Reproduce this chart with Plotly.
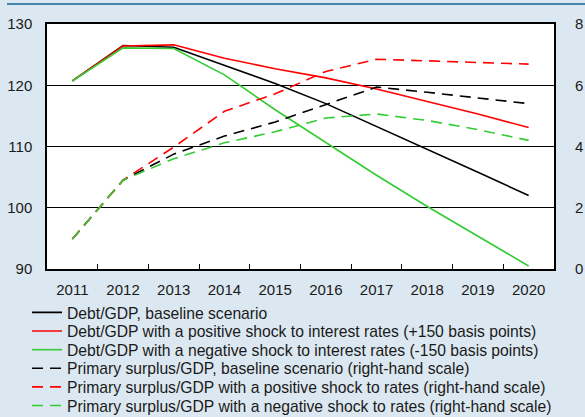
import plotly.graph_objects as go

years = ["2011", "2012", "2013", "2014", "2015", "2016", "2017", "2018", "2019", "2020"]

debt_baseline = [120.7, 126.5, 126.2, 123.3, 120.3, 117.0, 113.3, 109.6, 105.8, 102.0]
debt_pos_shock = [120.7, 126.4, 126.6, 124.4, 122.7, 121.2, 119.4, 117.4, 115.3, 113.1]
debt_neg_shock = [120.7, 126.1, 126.0, 121.7, 116.0, 110.6, 105.3, 100.2, 95.3, 90.5]

ps_baseline = [0.98, 2.90, 3.75, 4.34, 4.80, 5.37, 5.94, 5.77, 5.59, 5.40]
ps_pos_shock = [0.98, 2.90, 3.98, 5.15, 5.72, 6.45, 6.85, 6.80, 6.75, 6.69]
ps_neg_shock = [0.98, 2.90, 3.60, 4.12, 4.48, 4.93, 5.06, 4.85, 4.55, 4.20]

labels = [
    "Debt/GDP, baseline scenario",
    "Debt/GDP with a positive shock to interest rates (+150 basis points)",
    "Debt/GDP with a negative shock to interest rates (-150 basis points)",
    "Primary surplus/GDP, baseline scenario (right-hand scale)",
    "Primary surplus/GDP with a positive shock to rates (right-hand scale)",
    "Primary surplus/GDP with a negative shock to rates (right-hand scale)",
]

BLACK = "#000000"
RED = "#ff0000"
GREEN = "#33cc33"
BG = "#dce8f1"
FONT = "Liberation Sans, Arial, sans-serif"

W, H = 585, 417
PL, PR, PT, PB = 47, 554, 24, 269
plot_h = PB - PT
plot_w = PR - PL

def py(pix):
    return (PB - pix) / plot_h

def px(pix):
    return (pix - PL) / plot_w

fig = go.Figure()

series = [
    (debt_baseline, BLACK, "solid", "y"),
    (debt_pos_shock, RED, "solid", "y"),
    (debt_neg_shock, GREEN, "solid", "y"),
    (ps_baseline, BLACK, "11px,7px", "y2"),
    (ps_pos_shock, RED, "11px,7px", "y2"),
    (ps_neg_shock, GREEN, "11px,7px", "y2"),
]

legend_names = ["legend", "legend2", "legend3", "legend4", "legend5", "legend6"]
row_centers = [312.7, 331.3, 350.0, 368.6, 387.2, 405.8]

for i, (vals, col, dash, yax) in enumerate(series):
    fig.add_trace(go.Scatter(
        x=years, y=vals, mode="lines", name=labels[i],
        line=dict(color=col, width=1.6, dash=dash),
        yaxis=yax, legend=legend_names[i],
    ))

legend_common = dict(
    x=px(27), xanchor="left", yanchor="middle",
    bgcolor="rgba(0,0,0,0)", borderwidth=0,
    font=dict(family=FONT, size=15.7, color="#1a1a1a"),
)
layout_legends = {}
for i, name in enumerate(legend_names):
    d = dict(legend_common)
    d["y"] = py(row_centers[i])
    layout_legends[name] = d

fig.update_layout(
    width=W, height=H,
    paper_bgcolor=BG, plot_bgcolor="white",
    margin=dict(l=PL, r=W - PR, t=PT, b=H - PB, autoexpand=False),
    font=dict(family=FONT, size=15, color="#1a1a1a"),
    showlegend=True,
    xaxis=dict(
        type="category", range=[-0.5, len(years) - 0.5],
        tickson="boundaries", ticks="inside", ticklen=5,
        tickcolor=BLACK, tickwidth=1, showgrid=False,
        showline=True, linecolor=BLACK, linewidth=1.5, mirror=True,
        ticklabelstandoff=6, automargin=False,
        tickfont=dict(family=FONT, size=15, color="#1a1a1a"),
    ),
    yaxis=dict(
        range=[90, 130], dtick=10, tick0=90, showgrid=True, gridcolor=BLACK, gridwidth=1,
        zeroline=False, showline=True, linecolor=BLACK, linewidth=1.5, mirror=True,
        ticks="", ticklabelstandoff=10, automargin=False,
        tickfont=dict(family=FONT, size=15, color="#1a1a1a"),
    ),
    yaxis2=dict(
        range=[0, 8], dtick=2, tick0=0, overlaying="y", side="right",
        showgrid=False, zeroline=False, showline=False, ticks="",
        ticklabelstandoff=20, automargin=False,
        tickfont=dict(family=FONT, size=15, color="#1a1a1a"),
    ),
    shapes=[dict(
        type="line", xref="paper", yref="paper",
        x0=px(7), x1=px(W), y0=py(4), y1=py(4),
        line=dict(color="#4682aa", width=2),
    )],
    **layout_legends,
)

fig.write_html(
    "out.html",
    config={"displayModeBar": False},
    post_script="document.body.style.margin='0';document.body.style.padding='0';document.body.style.overflow='hidden';",
)
